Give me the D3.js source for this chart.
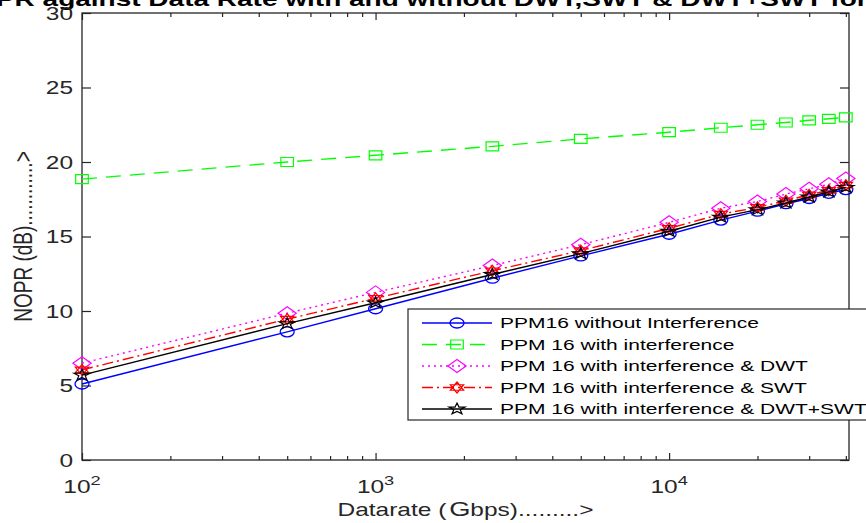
<!DOCTYPE html>
<html>
<head>
<meta charset="utf-8">
<title>NOPR vs Data Rate</title>
<script src="https://d3js.org/d3.v7.min.js"></script>
<style>
  body { margin: 0; background: #fff; }
  svg { display: block; font-family: "Liberation Sans", Arial, sans-serif; }
</style>
</head>
<body>
<svg width="866" height="523"></svg>
<script>
// data
var datarate = [100, 500, 1000, 2500, 5000, 10000, 15000, 20000, 25000, 30000, 35000, 40000];
var ppmNoInt   = [5.1, 8.6, 10.15, 12.2, 13.7, 15.15, 16.1, 16.7, 17.2, 17.55, 17.9, 18.15];
var ppmInt     = [18.85, 20.0, 20.45, 21.05, 21.55, 22.0, 22.3, 22.5, 22.65, 22.8, 22.9, 23.0];
var ppmIntDWT  = [6.5, 9.85, 11.25, 13.05, 14.45, 15.95, 16.9, 17.35, 17.85, 18.2, 18.5, 18.9];
var ppmIntSWT  = [6.05, 9.45, 10.85, 12.7, 14.05, 15.55, 16.5, 16.95, 17.4, 17.8, 18.1, 18.45];
var ppmIntBoth = [5.7, 9.15, 10.55, 12.45, 13.85, 15.35, 16.3, 16.8, 17.25, 17.65, 18.0, 18.3];

var seriesNames = ["PPM16 without Interference", "PPM 16 with interference",
  "PPM 16 with interference & DWT", "PPM 16 with interference & SWT",
  "PPM 16 with interference & DWT+SWT"];
var xMajor = [100, 1000, 10000];
var xMajorExp = [2, 3, 4];
var yTicks = [0, 5, 10, 15, 20, 25, 30];

var titleText = "NOPR against Data Rate with and without DWT,SWT & DWT+SWT for PPM";
var yLabel = "NOPR (dB)............>";

// the original picture is stretched sideways, so text and markers are too
var sx = 1.4;
var axisColor = "#262626";

var pLeft = 82, pRight = 849, pTop = 13, pBottom = 460;

var svg = d3.select("svg");

var x = d3.scaleLog().domain([100, 41000]).range([pLeft, pRight]);
var y = d3.scaleLinear().domain([0, 30]).range([pBottom, pTop]);

// title (clipped by the top edge)
svg.append("text")
  .attr("transform", "translate(445,6) scale(" + sx + ",1)")
  .attr("text-anchor", "middle")
  .style("font-weight", "bold")
  .style("font-size", "20px")
  .attr("fill", "#000")
  .text(titleText);

// minor ticks for log axis
var minor = [];
[100, 1000, 10000].forEach(function(d) {
  for (var k = 2; k <= 9; k++) if (d * k <= 41000) minor.push(d * k);
});

function styleAxis(g) {
  g.select(".domain").remove();
  g.selectAll("line").attr("stroke", axisColor).attr("stroke-width", 1.2);
}

svg.append("g").attr("transform", "translate(0," + pBottom + ")")
  .call(d3.axisBottom(x).tickValues(xMajor).tickSize(-7).tickFormat(""))
  .call(styleAxis);
svg.append("g").attr("transform", "translate(0," + pBottom + ")")
  .call(d3.axisBottom(x).tickValues(minor).tickSize(-4).tickFormat(""))
  .call(styleAxis);
svg.append("g").attr("transform", "translate(0," + pTop + ")")
  .call(d3.axisTop(x).tickValues(xMajor).tickSize(-7).tickFormat(""))
  .call(styleAxis);
svg.append("g").attr("transform", "translate(0," + pTop + ")")
  .call(d3.axisTop(x).tickValues(minor).tickSize(-4).tickFormat(""))
  .call(styleAxis);
svg.append("g").attr("transform", "translate(" + pLeft + ",0)")
  .call(d3.axisLeft(y).tickValues(yTicks).tickSize(-9).tickFormat(""))
  .call(styleAxis);
svg.append("g").attr("transform", "translate(" + pRight + ",0)")
  .call(d3.axisRight(y).tickValues(yTicks).tickSize(-9).tickFormat(""))
  .call(styleAxis);

svg.append("rect")
  .attr("x", pLeft).attr("y", pTop)
  .attr("width", pRight - pLeft).attr("height", pBottom - pTop)
  .attr("fill", "none").attr("stroke", axisColor).attr("stroke-width", 1.3);

// y tick labels
yTicks.forEach(function(t) {
  svg.append("text")
    .attr("transform", "translate(" + (pLeft - 9) + "," + (y(t) + 6.5) + ") scale(" + sx + ",1)")
    .attr("text-anchor", "end")
    .style("font-size", "17.5px")
    .attr("fill", axisColor)
    .text(t);
});

// x tick labels 10^n
xMajor.forEach(function(t, i) {
  var tx = svg.append("text")
    .attr("transform", "translate(" + x(t) + ",493) scale(" + sx + ",1)")
    .attr("text-anchor", "middle")
    .style("font-size", "17.5px")
    .attr("fill", axisColor);
  tx.append("tspan").text("10");
  tx.append("tspan").attr("dy", -8).style("font-size", "13px").text(xMajorExp[i]);
});

// axis labels
var xl = svg.append("text")
  .attr("transform", "translate(" + ((pLeft + pRight) / 2) + ",516) scale(" + sx + ",1)")
  .attr("text-anchor", "middle")
  .style("font-size", "17.5px")
  .attr("fill", axisColor);
xl.append("tspan").text("Datarate (");
xl.append("tspan").attr("dx", 2).style("font-size", "19.5px").text("G");
xl.append("tspan").text("bps).........>");

svg.append("text")
  .attr("transform", "translate(32," + ((pTop + pBottom) / 2) + ") scale(" + sx + ",1) rotate(-90)")
  .attr("text-anchor", "middle")
  .style("font-size", "19px")
  .attr("fill", axisColor)
  .text(yLabel);

// marker shapes (unit size, stretched by sx)
function markerPath(type, r) {
  var p = d3.path();
  if (type === "square") {
    p.rect(-r, -r, 2 * r, 2 * r);
  } else if (type === "diamond") {
    p.moveTo(0, -r); p.lineTo(r, 0); p.lineTo(0, r); p.lineTo(-r, 0); p.closePath();
  } else if (type === "hexagram") {
    for (var t = 0; t < 2; t++) {
      for (var k = 0; k < 3; k++) {
        var a = -Math.PI / 2 + t * Math.PI + k * 2 * Math.PI / 3;
        var px = r * Math.cos(a), py = r * Math.sin(a);
        if (k === 0) p.moveTo(px, py); else p.lineTo(px, py);
      }
      p.closePath();
    }
  } else if (type === "star") {
    for (var k = 0; k < 10; k++) {
      var rr = k % 2 === 0 ? r : r * 0.4;
      var a = -Math.PI / 2 + k * Math.PI / 5;
      if (k === 0) p.moveTo(rr * Math.cos(a), rr * Math.sin(a));
      else p.lineTo(rr * Math.cos(a), rr * Math.sin(a));
    }
    p.closePath();
  }
  return p.toString();
}

var series = [
  { name: seriesNames[0], values: ppmNoInt,   color: "#0000ff", dash: null,       marker: "circle",   r: 5 },
  { name: seriesNames[1], values: ppmInt,     color: "#00ff00", dash: "15,9",     marker: "square",   r: 4.5 },
  { name: seriesNames[2], values: ppmIntDWT,  color: "#ff00ff", dash: "2,4",      marker: "diamond",  r: 6.5 },
  { name: seriesNames[3], values: ppmIntSWT,  color: "#ff0000", dash: "11,4,2,4", marker: "hexagram", r: 5.5 },
  { name: seriesNames[4], values: ppmIntBoth, color: "#000000", dash: null,       marker: "star",     r: 6 }
];

function drawMarker(g, s, cx, cy) {
  if (s.marker === "circle") {
    g.append("ellipse").attr("cx", cx).attr("cy", cy)
      .attr("rx", s.r * sx).attr("ry", s.r)
      .attr("fill", "none").attr("stroke", s.color).attr("stroke-width", 1.3);
  } else {
    g.append("path")
      .attr("transform", "translate(" + cx + "," + cy + ") scale(" + sx + ",1)")
      .attr("d", markerPath(s.marker, s.r))
      .attr("fill", "none").attr("stroke", s.color).attr("stroke-width", 1.2)
      .attr("vector-effect", "non-scaling-stroke");
  }
}

var line = d3.line()
  .x(function(d) { return x(d[0]); })
  .y(function(d) { return y(d[1]); });

series.forEach(function(s) {
  var pts = datarate.map(function(d, i) { return [d, s.values[i]]; });
  var g = svg.append("g");
  g.append("path")
    .datum(pts)
    .attr("d", line)
    .attr("fill", "none")
    .attr("stroke", s.color)
    .attr("stroke-width", 1.4)
    .attr("stroke-dasharray", s.dash);
  pts.forEach(function(p) { drawMarker(g, s, x(p[0]), y(p[1])); });
});

// legend
var lg = svg.append("g");
lg.append("rect")
  .attr("x", 408).attr("y", 309).attr("width", 480).attr("height", 111)
  .attr("fill", "#fff").attr("stroke", axisColor).attr("stroke-width", 1.2);

series.forEach(function(s, i) {
  var ly = 323 + i * 21.5;
  lg.append("line")
    .attr("x1", 422).attr("x2", 492).attr("y1", ly).attr("y2", ly)
    .attr("stroke", s.color).attr("stroke-width", 1.4)
    .attr("stroke-dasharray", s.dash);
  drawMarker(lg, s, 457, ly);
  lg.append("text")
    .attr("transform", "translate(500," + (ly + 5) + ") scale(" + sx + ",1)")
    .style("font-size", "15px")
    .attr("fill", "#000")
    .text(s.name);
});
</script>
</body>
</html>
